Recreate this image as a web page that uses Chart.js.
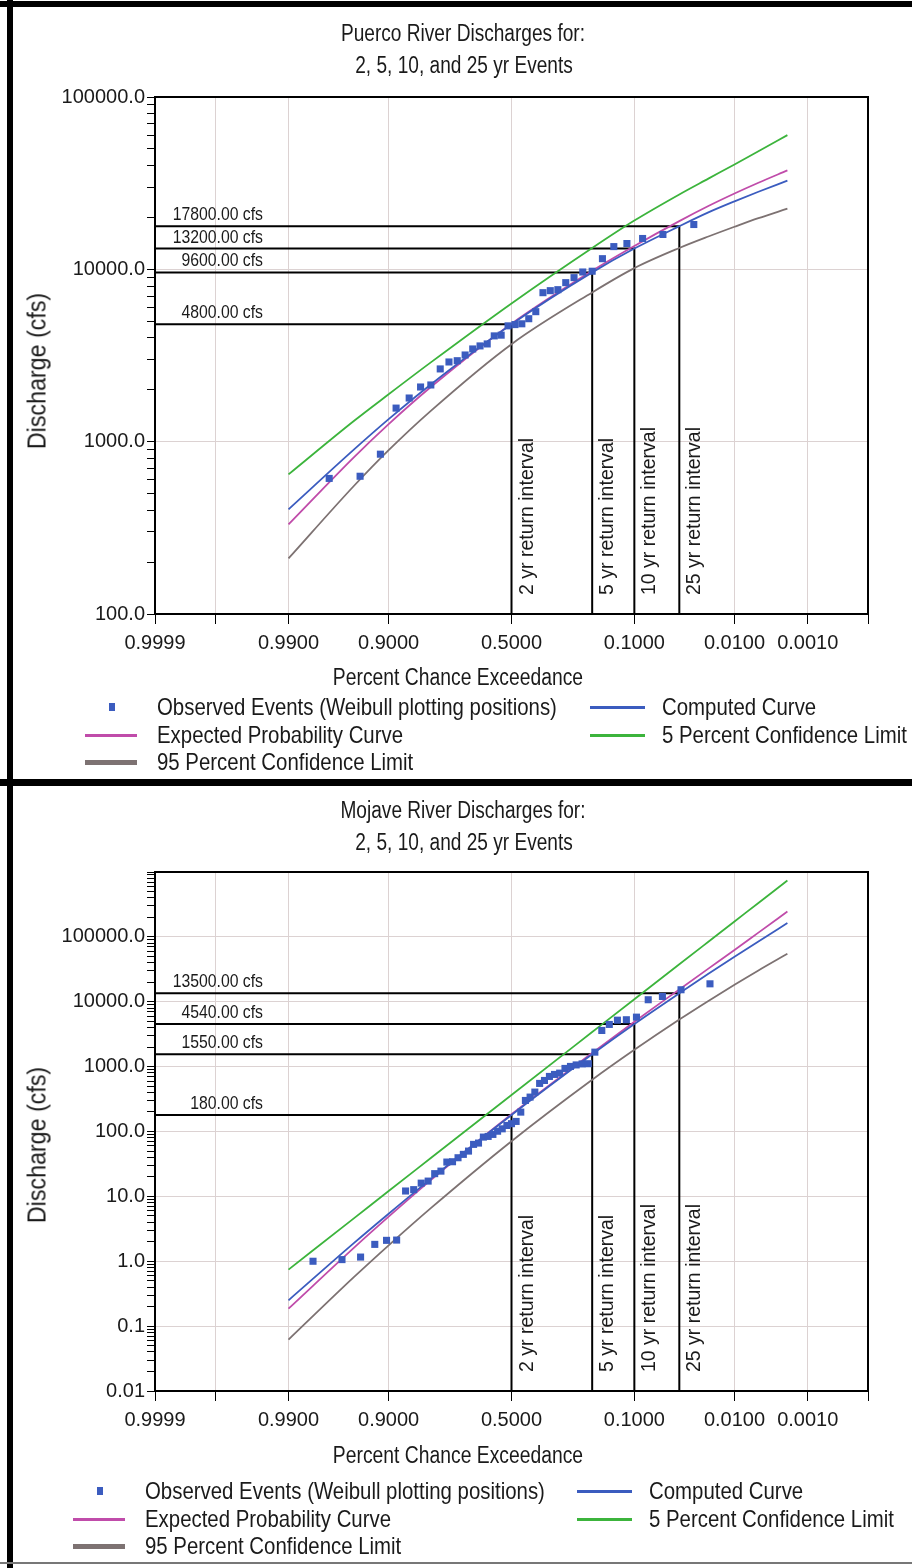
<!DOCTYPE html>
<html>
<head>
<meta charset="utf-8">
<script src="https://cdn.jsdelivr.net/npm/chart.js@4.4.1/dist/chart.umd.min.js"></script>
<style>
html, body { margin: 0; padding: 0; background: #fff; }
#page { position: relative; width: 912px; height: 1568px; overflow: hidden; background: #fff; }
canvas { position: absolute; left: 0; }
.txt { position: absolute; white-space: nowrap; color: #1a1a1a; line-height: 1;
       font-family: "Liberation Sans", Arial, sans-serif; }
.bar { position: absolute; background: #000; z-index: 5; }
.mk { position: absolute; }
</style>
</head>
<body>
<div id="page">
  <canvas id="puerco" width="912" height="782" style="top:0"></canvas>
  <canvas id="mojave" width="912" height="784" style="top:784px"></canvas>
</div>
<script>
// x axis: exceedance probability (normal probability paper)
const xMinP = 0.9999;
const xMaxP = 0.0001;
const xTickP = [0.9999, 0.999, 0.99, 0.9, 0.5, 0.1, 0.01, 0.001, 0.0001];
const xTickLabels = ['0.9999', '', '0.9900', '0.9000', '0.5000', '0.1000', '0.0100', '0.0010', ''];

// frequency curve ordinates
const curveP = [0.99, 0.95, 0.9, 0.8, 0.5, 0.2, 0.1, 0.04, 0.02, 0.01, 0.005, 0.002];

// return intervals
const returnP = [0.5, 0.2, 0.1, 0.04];
const returnNames = ['2 yr return interval', '5 yr return interval', '10 yr return interval', '25 yr return interval'];

// Puerco River
const puercoObsP = [0.9714, 0.9429, 0.9143, 0.8857, 0.8571, 0.8286, 0.8000, 0.7714, 0.7429, 0.7143,
  0.6857, 0.6571, 0.6286, 0.6000, 0.5714, 0.5429, 0.5143, 0.4857, 0.4571, 0.4286,
  0.4000, 0.3714, 0.3429, 0.3143, 0.2857, 0.2571, 0.2286, 0.2000, 0.1714, 0.1429,
  0.1143, 0.0857, 0.0571, 0.0286];
const puercoObsQ = [612, 630, 846, 1566, 1792, 2076, 2133, 2643, 2900, 2950,
  3184, 3451, 3594, 3690, 4110, 4150, 4700, 4780, 4830, 5170,
  5680, 7320, 7520, 7620, 8370, 8950, 9650, 9750, 11530, 13550,
  14120, 15100, 15930, 18200];
const puercoComputed = [405, 899, 1351, 2148, 4800, 9600, 13200, 17800, 21400, 24800, 28200, 32700];
const puercoExpected = [331, 811, 1264, 2075, 4840, 9820, 13670, 19050, 23300, 27540, 31800, 37500];
const puercoUpper5 = [646, 1318, 1884, 2884, 6340, 13300, 19190, 27200, 33600, 40600, 48400, 60100];
const puercoLower95 = [210, 553, 893, 1510, 3680, 7345, 10160, 13300, 15500, 17660, 19820, 22500];
const puercoReturnQ = [4800, 9600, 13200, 17800];

// Mojave River
const mojaveObsP = [0.9808, 0.9615, 0.9423, 0.9231, 0.9038, 0.8846, 0.8654, 0.8462, 0.8269, 0.8077,
  0.7885, 0.7692, 0.7500, 0.7308, 0.7115, 0.6923, 0.6731, 0.6538, 0.6346, 0.6154,
  0.5962, 0.5769, 0.5577, 0.5385, 0.5192, 0.5000, 0.4808, 0.4615, 0.4423, 0.4231,
  0.4038, 0.3846, 0.3654, 0.3462, 0.3269, 0.3077, 0.2885, 0.2692, 0.2500, 0.2308,
  0.2115, 0.1923, 0.1731, 0.1538, 0.1346, 0.1154, 0.0962, 0.0769, 0.0577, 0.0385,
  0.0192];
const mojaveObsQ = [1.0, 1.06, 1.16, 1.82, 2.1, 2.12, 12.1, 12.7, 16.0, 17.2,
  22.4, 24.5, 33.8, 34.2, 39.4, 44.4, 49.9, 63.3, 66.3, 82.0,
  84.0, 90.2, 101, 110, 124, 132, 143, 199, 301, 339,
  405, 551, 612, 706, 758, 794, 938, 1007, 1062, 1101,
  1109, 1672, 3610, 4470, 5200, 5280, 5790, 10740, 12070, 15310,
  18900];
const mojaveComputed = [0.25, 1.90, 5.40, 18.6, 180, 1550, 4540, 13500, 26900, 49300, 85200, 163000];
const mojaveExpected = [0.186, 1.61, 4.87, 17.8, 184, 1622, 4920, 15490, 32400, 62800, 116300, 245500];
const mojaveUpper5 = [0.743, 4.58, 12.1, 39.0, 366, 3410, 10940, 37800, 84100, 172600, 333600, 740000];
const mojaveLower95 = [0.062, 0.568, 1.76, 6.58, 70.8, 627, 1815, 5320, 10300, 18280, 30400, 55000];
const mojaveReturnQ = [180, 1550, 4540, 13500];

const FONT = '"Liberation Sans", Arial, sans-serif';
const BLUE = '#3b5cbf';
const MAGENTA = '#c04caa';
const GREEN = '#3cb43c';
const GRAY = '#7d7272';
const GRID = '#dcd2d2';

// inverse standard normal (Acklam)
function normInv(p) {
  const a = [-3.969683028665376e+01, 2.209460984245205e+02, -2.759285104469687e+02, 1.383577518672690e+02, -3.066479806614716e+01, 2.506628277459239e+00];
  const b = [-5.447609879822406e+01, 1.615858368580409e+02, -1.556989798598866e+02, 6.680131188771972e+01, -1.328068155288572e+01];
  const c = [-7.784894002430293e-03, -3.223964580411365e-01, -2.400758277161838e+00, -2.549671509869128e+00, 4.374664141464968e+00, 2.938163982698783e+00];
  const d = [7.784695709041462e-03, 3.224671290700398e-01, 2.445134137142996e+00, 3.754408661907416e+00];
  const pl = 0.02425;
  let q, r;
  if (p < pl) {
    q = Math.sqrt(-2 * Math.log(p));
    return (((((c[0]*q+c[1])*q+c[2])*q+c[3])*q+c[4])*q+c[5]) / ((((d[0]*q+d[1])*q+d[2])*q+d[3])*q+1);
  }
  if (p > 1 - pl) {
    q = Math.sqrt(-2 * Math.log(1 - p));
    return -(((((c[0]*q+c[1])*q+c[2])*q+c[3])*q+c[4])*q+c[5]) / ((((d[0]*q+d[1])*q+d[2])*q+d[3])*q+1);
  }
  q = p - 0.5; r = q * q;
  return (((((a[0]*r+a[1])*r+a[2])*r+a[3])*r+a[4])*r+a[5])*q / (((((b[0]*r+b[1])*r+b[2])*r+b[3])*r+b[4])*r+1);
}
function exceedToZ(p) { return normInv(1 - p); }

// probability scale: linear in standard normal deviate
class ProbabilityScale extends Chart.LinearScale {
  determineDataLimits() {
    this.min = exceedToZ(xMinP);
    this.max = exceedToZ(xMaxP);
  }
  buildTicks() {
    return xTickP.map(v => ({ value: v }));
  }
  getPixelForValue(value) {
    return value == null ? NaN : super.getPixelForValue(exceedToZ(value));
  }
}
ProbabilityScale.id = 'probability';
ProbabilityScale.defaults = {};
Chart.register(ProbabilityScale);

Chart.defaults.font.family = FONT;
Chart.defaults.color = '#1a1a1a';

function isPow10(v) {
  const l = Math.log10(v);
  return Math.abs(l - Math.round(l)) < 1e-9;
}
function logTicks(min, max) {
  const out = [];
  for (let e = Math.round(Math.log10(min)); e < Math.round(Math.log10(max)); e++) {
    for (let m = 1; m < 10; m++) out.push({ value: m * Math.pow(10, e) });
  }
  out.push({ value: max });
  return out;
}
function yLabel(v, showTop, max) {
  if (!isPow10(v)) return '';
  if (!showTop && Math.abs(v - max) < 1e-9 * max) return '';
  if (v >= 1) return v.toFixed(1);
  return String(+v.toPrecision(1));
}
function pts(xs, ys) { return xs.map((x, i) => ({ x: x, y: ys[i] })); }

function makeRefPlugin(levels) {
  return {
    id: 'refLabels',
    afterDatasetsDraw(chart) {
      const { ctx, chartArea, scales } = chart;
      ctx.save();
      ctx.fillStyle = '#1a1a1a';
      levels.forEach((q, i) => {
        const py = scales.y.getPixelForValue(q);
        ctx.save();
        ctx.font = '19px ' + FONT;
        ctx.translate(chartArea.left + 108, py - 6);
        ctx.scale(0.83, 1);
        ctx.textAlign = 'right';
        ctx.textBaseline = 'alphabetic';
        ctx.fillText(q.toFixed(2) + ' cfs', 0, 0);
        ctx.restore();
        const px = scales.x.getPixelForValue(returnP[i]);
        ctx.save();
        ctx.font = '19.5px ' + FONT;
        ctx.translate(px + 6, chartArea.bottom - 19);
        ctx.rotate(-Math.PI / 2);
        ctx.textAlign = 'left';
        ctx.textBaseline = 'top';
        ctx.fillText(returnNames[i], 0, 0);
        ctx.restore();
      });
      ctx.restore();
    }
  };
}
const frame = {
  id: 'frame',
  afterDraw(chart) {
    const { ctx, chartArea: a } = chart;
    ctx.save();
    ctx.strokeStyle = '#000';
    ctx.lineWidth = 2;
    ctx.strokeRect(a.left, a.top, a.right - a.left, a.bottom - a.top);
    ctx.restore();
  }
};

function drawChart(id, cfg) {
  const refSets = cfg.returnQ.map((q, i) => ({
    type: 'line',
    data: [{ x: xMinP, y: q }, { x: returnP[i], y: q }, { x: returnP[i], y: cfg.yMin }],
    borderColor: '#000', borderWidth: 2, pointRadius: 0, fill: false, tension: 0
  }));
  const curve = (label, vals, color) => ({
    type: 'line', label: label, data: pts(curveP, vals),
    borderColor: color, borderWidth: 1.8, pointRadius: 0, fill: false,
    cubicInterpolationMode: 'monotone'
  });
  new Chart(document.getElementById(id), {
    type: 'line',
    data: {
      datasets: [
        {
          type: 'scatter', label: 'Observed Events (Weibull plotting positions)',
          data: pts(cfg.obsP, cfg.obsQ), pointStyle: 'rect', pointRadius: 5,
          backgroundColor: BLUE, borderWidth: 0, showLine: false
        },
        curve('Computed Curve', cfg.computed, BLUE),
        curve('Expected Probability Curve', cfg.expected, MAGENTA),
        curve('5 Percent Confidence Limit', cfg.upper5, GREEN),
        curve('95 Percent Confidence Limit', cfg.lower95, GRAY)
      ].concat(refSets)
    },
    options: {
      responsive: false, animation: false, devicePixelRatio: 1, events: [],
      layout: { padding: { left: 0, right: 44, top: cfg.padTop, bottom: cfg.padBottom } },
      plugins: { legend: { display: false }, title: { display: false }, tooltip: { enabled: false } },
      scales: {
        x: {
          type: 'probability',
          afterFit(scale) { scale.height = 44; },
          ticks: { autoSkip: false, maxRotation: 0, minRotation: 0, padding: 7,
                   font: { size: 20 }, callback: (v, i) => xTickLabels[i] },
          grid: { color: GRID, tickColor: '#000', tickLength: 10, lineWidth: 1 },
          border: { color: '#000', width: 2 }
        },
        y: {
          type: 'logarithmic', min: cfg.yMin, max: cfg.yMax,
          afterBuildTicks(scale) { scale.ticks = logTicks(cfg.yMin, cfg.yMax); },
          afterFit(scale) { scale.width = 155; },
          ticks: { autoSkip: false, padding: 2, font: { size: 20 },
                   callback: v => yLabel(v, cfg.showTop, cfg.yMax) },
          grid: { color: ctx => isPow10(ctx.tick.value) ? GRID : 'rgba(0,0,0,0)',
                  tickColor: '#000', tickLength: 8, lineWidth: 1 },
          border: { color: '#000', width: 2 }
        }
      }
    },
    plugins: [makeRefPlugin(cfg.returnQ), frame]
  });
}

drawChart('puerco', {
  obsP: puercoObsP, obsQ: puercoObsQ, computed: puercoComputed, expected: puercoExpected,
  upper5: puercoUpper5, lower95: puercoLower95, returnQ: puercoReturnQ,
  yMin: 100, yMax: 100000, showTop: true, padTop: 97, padBottom: 124
});
drawChart('mojave', {
  obsP: mojaveObsP, obsQ: mojaveObsQ, computed: mojaveComputed, expected: mojaveExpected,
  upper5: mojaveUpper5, lower95: mojaveLower95, returnQ: mojaveReturnQ,
  yMin: 0.01, yMax: 1000000, showTop: false, padTop: 88, padBottom: 133
});

// text, legend and panel frames
const page = document.getElementById('page');
function addText(str, x, y, mode, size, sx) {
  const d = document.createElement('div');
  d.className = 'txt';
  d.style.left = x + 'px';
  d.style.top = y + 'px';
  d.style.fontSize = size + 'px';
  if (mode === 'c') d.style.transform = `translate(-50%, -50%) scaleX(${sx})`;
  if (mode === 'l') { d.style.transform = `translateY(-50%) scaleX(${sx})`; d.style.transformOrigin = '0 50%'; }
  if (mode === 'rot') d.style.transform = `translate(-50%, -50%) rotate(-90deg) scaleX(${sx})`;
  d.textContent = str;
  page.appendChild(d);
}
function addBox(x, y, w, h, color, cls) {
  const d = document.createElement('div');
  d.className = cls || 'mk';
  d.style.cssText += `left:${x}px;top:${y}px;width:${w}px;height:${h}px;background:${color};`;
  page.appendChild(d);
}
function panelText(river, top, xt, yt, legendY, lx, rx) {
  addText(river + ' River Discharges for:', 463, top + 33, 'c', 23, 0.83);
  addText('2, 5, 10, and 25 yr Events', 464, top + 65, 'c', 23, 0.83);
  addText('Percent Chance Exceedance', 458, xt, 'c', 23, 0.84);
  addText('Discharge (cfs)', 37, yt, 'rot', 25, 0.93);
  const r = [legendY, legendY + 28, legendY + 55];
  addBox(lx + 24, r[0] - 4, 6, 8, BLUE);
  addText('Observed Events (Weibull plotting positions)', lx + 72, r[0], 'l', 24, 0.85);
  addBox(rx, r[0] - 1, 55, 3, BLUE);
  addText('Computed Curve', rx + 72, r[0], 'l', 24, 0.85);
  addBox(lx, r[1] - 1, 52, 3, MAGENTA);
  addText('Expected Probability Curve', lx + 72, r[1], 'l', 24, 0.85);
  addBox(rx, r[1] - 1, 55, 3, GREEN);
  addText('5 Percent Confidence Limit', rx + 72, r[1], 'l', 24, 0.85);
  addBox(lx, r[2] - 2, 52, 5, GRAY);
  addText('95 Percent Confidence Limit', lx + 72, r[2], 'l', 24, 0.85);
}
panelText('Puerco', 0, 677, 371, 707, 85, 590);
panelText('Mojave', 777, 1455, 1145, 1491, 73, 577);

addBox(0, 1, 912, 6, '#000', 'bar');
addBox(7, 0, 6, 1568, '#000', 'bar');
addBox(0, 779, 912, 7, '#000', 'bar');
addBox(0, 1562, 912, 2, '#777', 'bar');
</script>
</body>
</html>
